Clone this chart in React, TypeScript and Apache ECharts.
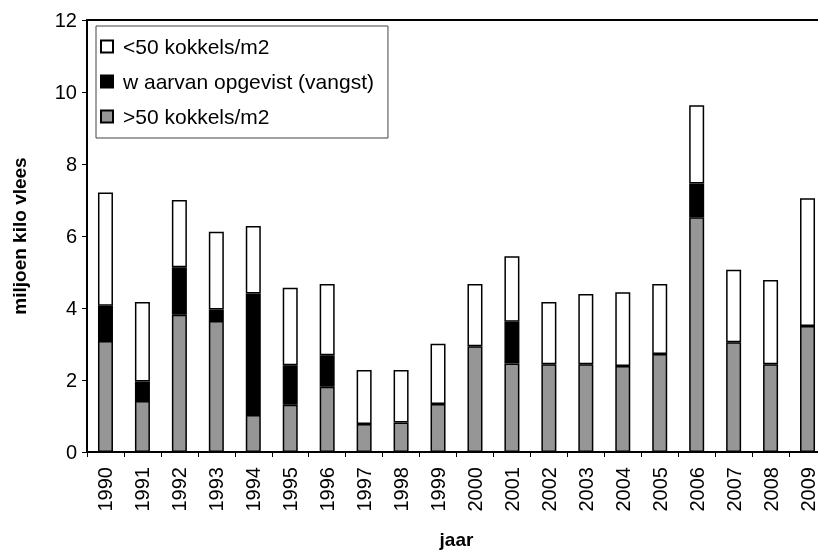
import React, { useEffect, useRef } from "react";
import * as echarts from "echarts";

const years = ["1990","1991","1992","1993","1994","1995","1996","1997","1998","1999","2000","2001","2002","2003","2004","2005","2006","2007","2008","2009"];
const above50 = [3.08,1.42,3.81,3.64,1.03,1.31,1.81,0.78,0.82,1.33,2.94,2.46,2.44,2.44,2.39,2.72,6.52,3.05,2.44,3.50];
const caught = [0.98,0.54,1.32,0.32,3.37,1.10,0.88,0,0,0,0,1.16,0,0,0,0,0.94,0,0,0];
const below50 = [3.15,2.21,1.87,2.16,1.88,2.15,1.98,1.50,1.46,1.68,1.73,1.82,1.73,1.95,2.05,1.95,2.17,2.01,2.34,3.55];
const yTicks = { min: 0, max: 12, interval: 2 };
const names = ["<50 kokkels/m2", "w aarvan opgevist (vangst)", ">50 kokkels/m2"];

export default function App() {
  const ref = useRef<HTMLDivElement>(null);
  useEffect(() => {
    if (!ref.current) return;
    const chart = echarts.init(ref.current, null, { renderer: "svg" });
    const font = "'Liberation Sans', Arial, sans-serif";
    const barCommon = {
      type: "bar",
      stack: "total",
      barWidth: 15,
      itemStyle: { borderColor: "#000", borderWidth: 1.5 },
      emphasis: { disabled: true },
    };
    chart.setOption({
      animation: false,
      textStyle: { fontFamily: font, color: "#000" },
      grid: { left: 87, right: -8, top: 20, bottom: 98, containLabel: false, outerBoundsMode: "none" },
      legend: {
        data: names,
        orient: "vertical",
        left: 96,
        top: 26,
        padding: [10, 14, 11, 4],
        itemGap: 14,
        itemWidth: 12,
        itemHeight: 12,
        icon: "rect",
        borderColor: "#444",
        borderWidth: 1,
        backgroundColor: "#fff",
        textStyle: { fontSize: 21, color: "#000", fontFamily: font, padding: [0, 0, 0, 5] },
      },
      xAxis: [
        {
          type: "category",
          data: years,
          name: "jaar",
          nameLocation: "middle",
          nameGap: 78,
          nameTextStyle: { fontSize: 19, fontWeight: "bold", color: "#000", fontFamily: font },
          axisLine: { lineStyle: { color: "#000", width: 2 } },
          axisTick: { show: true, length: 5, lineStyle: { color: "#000", width: 1 } },
          axisLabel: { rotate: 90, fontSize: 20, color: "#000", margin: 15, fontFamily: font },
        },
        {
          type: "category",
          data: years,
          position: "top",
          axisLine: { show: true, lineStyle: { color: "#000", width: 2 } },
          axisTick: { show: false },
          axisLabel: { show: false },
        },
      ],
      yAxis: {
        type: "value",
        min: yTicks.min,
        max: yTicks.max,
        interval: yTicks.interval,
        name: "miljoen kilo vlees",
        nameLocation: "middle",
        nameGap: 58,
        nameTextStyle: { fontSize: 19, fontWeight: "bold", color: "#000", fontFamily: font },
        axisLine: { show: true, lineStyle: { color: "#000", width: 2 } },
        axisTick: { show: true, length: 5, lineStyle: { color: "#000", width: 1 } },
        axisLabel: { fontSize: 20, color: "#000", margin: 10, fontFamily: font },
        splitLine: { show: false },
      },
      series: [
        { ...barCommon, name: names[2], data: above50, itemStyle: { ...barCommon.itemStyle, color: "#969696" } },
        { ...barCommon, name: names[1], data: caught.map((v) => (v === 0 ? null : v)), itemStyle: { ...barCommon.itemStyle, color: "#000" } },
        { ...barCommon, name: names[0], data: below50, itemStyle: { ...barCommon.itemStyle, color: "#fff" } },
      ],
    });
    return () => chart.dispose();
  }, []);
  return <div ref={ref} style={{ position: "fixed", left: 0, top: 0, width: 818, height: 550 }} />;
}
